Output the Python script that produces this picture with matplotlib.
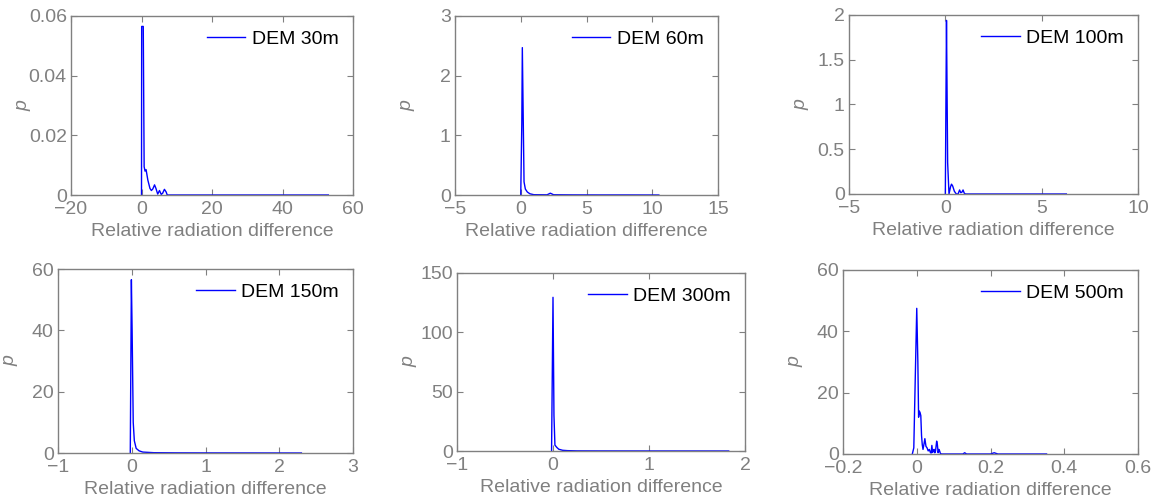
import matplotlib
matplotlib.use("Agg")
import matplotlib.pyplot as plt

plt.rcParams['font.family'] = ['Liberation Sans', 'DejaVu Sans']

labels = ["DEM 30m", "DEM 60m", "DEM 100m", "DEM 150m", "DEM 300m", "DEM 500m"]

x30 = [0.0, 0.05, 0.5, 0.75, 1.0, 1.3, 1.8, 2.4, 2.8, 3.2, 3.7, 4.1, 4.6, 5.1, 5.6, 6.0, 6.5, 7.0, 7.3, 10, 20, 30, 40, 53]
y30 = [0.0, 0.0565, 0.0565, 0.0095, 0.0080, 0.0085, 0.0050, 0.0022, 0.0015, 0.0020, 0.0034, 0.0022, 0.0003, 0.0015, 0.0002, 0.0006, 0.0019, 0.0010, 0.0, 0.0, 0.0, 0.0, 0.0, 0.0]

x60 = [0.0, 0.08, 0.12, 0.25, 0.35, 0.5, 0.7, 1.0, 2.0, 2.25, 2.5, 4, 6, 8, 10.5]
y60 = [0.0, 1.2, 2.47, 0.22, 0.10, 0.05, 0.02, 0.005, 0.003, 0.03, 0.004, 0.002, 0.001, 0.001, 0.0]

x100 = [0.0, 0.03, 0.06, 0.12, 0.19, 0.27, 0.32, 0.38, 0.47, 0.57, 0.66, 0.74, 0.80, 0.86, 0.92, 0.98, 1.04, 2, 4, 6.28]
y100 = [0.0, 1.0, 1.94, 0.35, 0.0, 0.08, 0.11, 0.09, 0.03, 0.0, 0.0, 0.045, 0.015, 0.02, 0.045, 0.01, 0.0, 0.0, 0.0, 0.0]

x150 = [-0.02, -0.005, 0.005, 0.02, 0.035, 0.06, 0.1, 0.15, 0.3, 0.6, 1.0, 1.6, 2.3]
y150 = [0.0, 56.5, 40.0, 10.0, 4.0, 1.5, 0.7, 0.3, 0.1, 0.05, 0.03, 0.02, 0.0]

x300 = [-0.015, -0.008, 0.0, 0.01, 0.02, 0.04, 0.06, 0.1, 0.15, 0.25, 0.5, 1.0, 1.83]
y300 = [0.0, 60.0, 129.5, 30.0, 5.0, 3.0, 1.5, 0.6, 0.3, 0.1, 0.05, 0.02, 0.0]

x500 = [-0.012, -0.008, -0.004, 0.0, 0.003, 0.005, 0.007, 0.009, 0.011, 0.013, 0.015, 0.017, 0.020, 0.022, 0.025, 0.028, 0.031, 0.034, 0.037, 0.039, 0.041, 0.043, 0.045, 0.047, 0.049, 0.051, 0.054, 0.056, 0.058, 0.060, 0.062, 0.064, 0.067, 0.09, 0.125, 0.13, 0.135, 0.2, 0.21, 0.22, 0.3, 0.352]
y500 = [0.0, 2.0, 25.0, 47.5, 30.0, 12.0, 14.0, 13.5, 12.5, 6.0, 3.0, 1.5, 3.5, 5.0, 2.5, 2.0, 1.0, 1.5, 0.5, 0.3, 2.8, 0.5, 1.2, 1.5, 0.4, 1.0, 4.2, 3.0, 0.4, 1.5, 1.0, 0.2, 0.0, 0.0, 0.0, 0.4, 0.0, 0.0, 0.4, 0.0, 0.0, 0.0]

xs = [x30, x60, x100, x150, x300, x500]
ys = [y30, y60, y100, y150, y300, y500]

xlims = [(-20, 60), (-5, 15), (-5, 10), (-1, 3), (-1, 2), (-0.2, 0.6)]
ylims = [(0, 0.06), (0, 3), (0, 2), (0, 60), (0, 150), (0, 60)]
xticks = [[-20, 0, 20, 40, 60], [-5, 0, 5, 10, 15], [-5, 0, 5, 10], [-1, 0, 1, 2, 3], [-1, 0, 1, 2], [-0.2, 0, 0.2, 0.4, 0.6]]
xticklabels = [["\u221220", "0", "20", "40", "60"], ["\u22125", "0", "5", "10", "15"], ["\u22125", "0", "5", "10"],
               ["\u22121", "0", "1", "2", "3"], ["\u22121", "0", "1", "2"], ["\u22120.2", "0", "0.2", "0.4", "0.6"]]
yticks = [[0, 0.02, 0.04, 0.06], [0, 1, 2, 3], [0, 0.5, 1, 1.5, 2], [0, 20, 40, 60], [0, 50, 100, 150], [0, 20, 40, 60]]
yticklabels = [["0", "0.02", "0.04", "0.06"], ["0", "1", "2", "3"], ["0", "0.5", "1", "1.5", "2"],
               ["0", "20", "40", "60"], ["0", "50", "100", "150"], ["0", "20", "40", "60"]]

W, H = 1158, 504
# pixel boxes: left, right, top, bottom
boxes = [(71, 353, 16, 195), (455, 718, 16, 195), (849, 1138, 15, 194),
         (58, 353, 269, 453), (457, 745, 273, 451), (843, 1138, 270, 454)]

fig = plt.figure(figsize=(W / 100, H / 100), dpi=100)
gray = '#808080'
fs = 14
for i in range(6):
    l, r, t, b = boxes[i]
    wpx, hpx = r - l, b - t
    ax = fig.add_axes([l / W, (H - b) / H, wpx / W, hpx / H])
    ax.plot(xs[i], ys[i], color='#0000ff', lw=1.0, label=labels[i])
    ax.set_xlim(*xlims[i])
    ax.set_ylim(*ylims[i])
    ax.set_xticks(xticks[i])
    ax.set_xticklabels(xticklabels[i])
    ax.set_yticks(yticks[i])
    ax.set_yticklabels(yticklabels[i])
    ax.tick_params(direction='in', top=True, right=True, length=4, color=gray,
                   labelcolor=gray, labelsize=fs)
    ax.tick_params(axis='x', pad=4)
    ax.tick_params(axis='y', pad=3)
    for s in ax.spines.values():
        s.set_color(gray)
        s.set_linewidth(1.0)
    ax.set_xlabel("Relative radiation difference", color=gray, fontsize=fs)
    ax.set_ylabel("p", color=gray, fontsize=fs, style='italic')
    ax.xaxis.set_label_coords(0.5, -28 / hpx)
    ax.yaxis.set_label_coords(-40 / wpx, 0.5)
    ax.legend(loc='upper right', frameon=False, fontsize=fs, handlelength=2.0,
              handletextpad=0.35, borderaxespad=0.32)

fig.savefig("out.png", dpi=100)
